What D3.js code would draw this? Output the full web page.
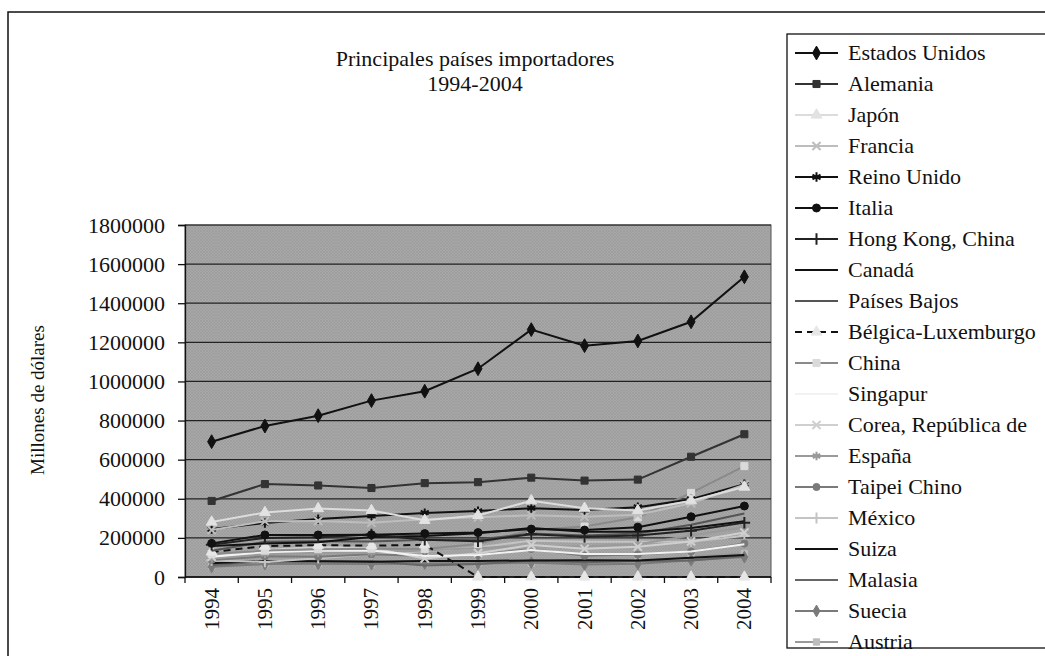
<!DOCTYPE html>
<html lang="es">
<head>
  <meta charset="UTF-8">
  <title>Principales países importadores 1994-2004</title>
  <script src="https://d3js.org/d3.v7.min.js"></script>
  <style>
    body { margin: 0; background: #fff; }
    text { font-family: "Liberation Serif", "Times New Roman", serif; fill: #111; }
  </style>
</head>
<body>
  <div id="chart"></div>
  <script>
    // years and series (millones de dólares)
    const years = ["1994","1995","1996","1997","1998","1999","2000","2001","2002","2003","2004"];
    const yTicks = [0, 200000, 400000, 600000, 800000, 1000000, 1200000, 1400000, 1600000, 1800000];

    const estadosUnidos = [692000, 772000, 825000, 902000, 950000, 1065000, 1265000, 1183000, 1207000, 1305000, 1535000];
    const alemania      = [389000, 475000, 468000, 455000, 480000, 485000, 508000, 493000, 498000, 615000, 730000];
    const japon         = [281000, 330000, 350000, 340000, 290000, 315000, 390000, 352000, 340000, 390000, 460000];
    const francia       = [240000, 285000, 287000, 277000, 295000, 305000, 316000, 308000, 318000, 377000, 472000];
    const reinoUnido    = [245000, 276000, 296000, 312000, 327000, 337000, 352000, 342000, 357000, 398000, 475000];
    const italia        = [172000, 215000, 215000, 216000, 222000, 227000, 245000, 240000, 255000, 308000, 363000];
    const hongKong      = [165000, 200000, 203000, 217000, 190000, 183000, 218000, 206000, 212000, 236000, 278000];
    const canada        = [158000, 171000, 178000, 205000, 210000, 224000, 250000, 231000, 232000, 250000, 285000];
    const paisesBajos   = [134000, 180000, 183000, 181000, 190000, 192000, 222000, 212000, 223000, 267000, 325000];
    const belgicaLux    = [128000, 158000, 163000, 160000, 165000, 0, 0, 0, 0, 0, 0];
    const china         = [118000, 135000, 142000, 145000, 143000, 169000, 240000, 258000, 305000, 430000, 567000];
    const singapur      = [104000, 127000, 134000, 135000, 107000, 113000, 138000, 118000, 118000, 130000, 167000];
    const corea         = [104000, 138000, 153000, 148000, 95000, 122000, 163000, 144000, 155000, 182000, 228000];
    const espana        = [94000, 117000, 124000, 125000, 135000, 148000, 156000, 157000, 167000, 212000, 254000];
    const taipei        = [87000, 106000, 104000, 116000, 107000, 113000, 143000, 109000, 115000, 130000, 171000];
    const mexico        = [85000, 77000, 96000, 116000, 133000, 151000, 186000, 180000, 180000, 182000, 210000];
    const suiza         = [70000, 82000, 81000, 78000, 82000, 82000, 85000, 86000, 85000, 98000, 113000];
    const malasia       = [60000, 80000, 80000, 81000, 59000, 66000, 84000, 75000, 82000, 85000, 107000];
    const suecia        = [52000, 66000, 68000, 66000, 69000, 69000, 74000, 64000, 68000, 86000, 102000];
    const austria       = [56000, 68000, 68000, 65000, 69000, 71000, 70000, 75000, 79000, 105000, 120000];

    const names = ["Estados Unidos","Alemania","Japón","Francia","Reino Unido","Italia","Hong Kong, China",
      "Canadá","Países Bajos","Bélgica-Luxemburgo","China","Singapur","Corea, República de","España",
      "Taipei Chino","México","Suiza","Malasia","Suecia","Austria"];
    const values = [estadosUnidos, alemania, japon, francia, reinoUnido, italia, hongKong, canada, paisesBajos,
      belgicaLux, china, singapur, corea, espana, taipei, mexico, suiza, malasia, suecia, austria];

    // look of each series: line colour, marker type, marker colour, dash
    const sym = (name, fb) => d3[name] || fb;
    const styles = [
      { c: "#111", m: d3.symbolDiamond, mc: "#111", s: 55 },
      { c: "#333", m: d3.symbolSquare, mc: "#333", s: 50 },
      { c: "#dcdcdc", m: d3.symbolTriangle, mc: "#e2e2e2", s: 50 },
      { c: "#bdbdbd", m: sym("symbolX", d3.symbolCross), mc: "#bdbdbd", s: 45, stroke: true },
      { c: "#111", m: sym("symbolAsterisk", d3.symbolCross), mc: "#111", s: 60, stroke: true },
      { c: "#111", m: d3.symbolCircle, mc: "#111", s: 50 },
      { c: "#222", m: sym("symbolPlus", d3.symbolCross), mc: "#222", s: 45, stroke: true },
      { c: "#111", m: null },
      { c: "#555", m: null },
      { c: "#111", m: d3.symbolTriangle, mc: "#e6e6e6", s: 50, dash: "7,5" },
      { c: "#8a8a8a", m: d3.symbolSquare, mc: "#dadada", s: 50 },
      { c: "#f2f2f2", m: null },
      { c: "#cfcfcf", m: sym("symbolX", d3.symbolCross), mc: "#cfcfcf", s: 45, stroke: true },
      { c: "#9a9a9a", m: sym("symbolAsterisk", d3.symbolCross), mc: "#9a9a9a", s: 50, stroke: true },
      { c: "#7a7a7a", m: d3.symbolCircle, mc: "#7a7a7a", s: 40 },
      { c: "#c4c4c4", m: sym("symbolPlus", d3.symbolCross), mc: "#c4c4c4", s: 40, stroke: true },
      { c: "#111", m: null },
      { c: "#666", m: null },
      { c: "#7a7a7a", m: d3.symbolDiamond, mc: "#7a7a7a", s: 40 },
      { c: "#9a9a9a", m: d3.symbolSquare, mc: "#bcbcbc", s: 40 }
    ];

    const width = 1045, height = 656;
    const svg = d3.select("#chart").append("svg").attr("width", width).attr("height", height);

    // outer chart frame
    svg.append("rect").attr("x", 8).attr("y", 12).attr("width", width + 10).attr("height", height + 10)
      .attr("fill", "none").attr("stroke", "#111").attr("stroke-width", 1.5);

    const plot = { left: 185, right: 771, top: 225, bottom: 577 };

    const x = d3.scaleBand().domain(years).range([plot.left, plot.right]);
    const y = d3.scaleLinear().domain([0, 1800000]).range([plot.bottom, plot.top]);

    // hatched grey plot background
    const defs = svg.append("defs");
    const pat = defs.append("pattern").attr("id", "hatch").attr("patternUnits", "userSpaceOnUse")
      .attr("width", 3).attr("height", 3);
    pat.append("rect").attr("width", 3).attr("height", 3).attr("fill", "#a8a8a8");
    pat.append("path").attr("d", "M0,3 L3,0 M0,0 L3,3").attr("stroke", "#989898").attr("stroke-width", 0.6);

    svg.append("rect").attr("x", plot.left).attr("y", plot.top)
      .attr("width", plot.right - plot.left).attr("height", plot.bottom - plot.top)
      .attr("fill", "url(#hatch)").attr("stroke", "#555").attr("stroke-width", 1);

    // gridlines
    svg.append("g").selectAll("line").data(yTicks).join("line")
      .attr("x1", plot.left).attr("x2", plot.right)
      .attr("y1", d => y(d)).attr("y2", d => y(d))
      .attr("stroke", "#222").attr("stroke-width", 1.2);

    // y axis
    const yAxis = svg.append("g").attr("transform", `translate(${plot.left},0)`)
      .call(d3.axisLeft(y).tickValues(yTicks).tickSize(7).tickPadding(13).tickFormat(d3.format("d")));
    yAxis.selectAll("path, line").attr("stroke", "#111").attr("stroke-width", 1.3);
    yAxis.selectAll("text").style("font-family", "Liberation Serif, serif").style("font-size", "22px").attr("fill", "#111");

    // x axis: ticks between categories, labels rotated
    const xAxis = svg.append("g").attr("transform", `translate(0,${plot.bottom})`);
    xAxis.append("line").attr("x1", plot.left).attr("x2", plot.right).attr("stroke", "#111").attr("stroke-width", 1.3);
    xAxis.selectAll(".tk").data(d3.range(years.length + 1)).join("line").attr("class", "tk")
      .attr("x1", i => plot.left + i * x.step()).attr("x2", i => plot.left + i * x.step())
      .attr("y1", 0).attr("y2", 6).attr("stroke", "#111").attr("stroke-width", 1.3);
    xAxis.selectAll(".lbl").data(years).join("text").attr("class", "lbl")
      .attr("transform", d => `translate(${x(d) + x.bandwidth() / 2 + 7},11) rotate(-90)`)
      .attr("text-anchor", "end").style("font-size", "21px").text(d => d);

    // axis title
    svg.append("text").attr("transform", "translate(44,400) rotate(-90)")
      .attr("text-anchor", "middle").style("font-size", "19px").text("Millones de dólares");

    // chart title
    const title = svg.append("text").attr("x", 475).attr("text-anchor", "middle").style("font-size", "22px");
    title.append("tspan").attr("x", 475).attr("y", 66).text("Principales países importadores");
    title.append("tspan").attr("x", 475).attr("y", 91).text("1994-2004");

    // series lines + markers (draw from last to first so US sits on top)
    const line = d3.line().x((d, i) => x(years[i]) + x.bandwidth() / 2).y(d => y(d));
    const series = names.map((n, i) => ({ name: n, vals: values[i], st: styles[i] })).reverse();

    const g = svg.append("g");
    series.forEach(s => {
      g.append("path").datum(s.vals).attr("d", line).attr("fill", "none")
        .attr("stroke", s.st.c).attr("stroke-width", 2).attr("stroke-dasharray", s.st.dash || null);
      if (s.st.m) {
        const shape = d3.symbol().type(s.st.m).size(s.st.s);
        g.append("g").selectAll("path").data(s.vals).join("path")
          .attr("transform", (d, i) => `translate(${x(years[i]) + x.bandwidth() / 2},${y(d)})`)
          .attr("d", shape)
          .attr("fill", s.st.stroke ? "none" : s.st.mc)
          .attr("stroke", s.st.mc).attr("stroke-width", s.st.stroke ? 2 : 1);
      }
    });

    // legend
    svg.append("rect").attr("x", 787).attr("y", 34).attr("width", 300).attr("height", 614)
      .attr("fill", "#fff").attr("stroke", "#111").attr("stroke-width", 1.3);
    const leg = svg.append("g").selectAll("g").data(names).join("g")
      .attr("transform", (d, i) => `translate(795,${53 + i * 31})`);
    leg.append("line").attr("x1", 0).attr("x2", 43).attr("y1", 0).attr("y2", 0)
      .attr("stroke", (d, i) => styles[i].c).attr("stroke-width", 2)
      .attr("stroke-dasharray", (d, i) => styles[i].dash || null);
    leg.each(function(d, i) {
      const st = styles[i];
      if (!st.m) return;
      d3.select(this).append("path").attr("transform", "translate(21.5,0)")
        .attr("d", d3.symbol().type(st.m).size(st.s))
        .attr("fill", st.stroke ? "none" : st.mc)
        .attr("stroke", st.mc).attr("stroke-width", st.stroke ? 2 : 1);
    });
    leg.append("text").attr("x", 53).attr("y", 7).style("font-size", "22px").text(d => d);
  </script>
</body>
</html>
